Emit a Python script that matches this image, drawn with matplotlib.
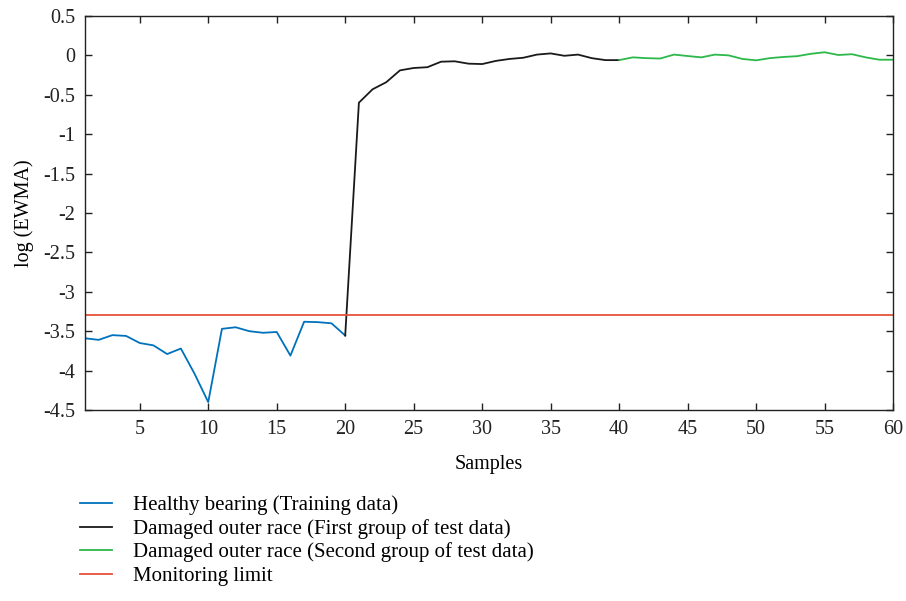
import numpy as np
import matplotlib.pyplot as plt

plt.rcParams['font.family'] = ['Liberation Serif', 'DejaVu Serif']
plt.rcParams['font.size'] = 14.5

### DATA
x_healthy = np.arange(1, 21)
y_healthy = [-3.59, -3.61, -3.55, -3.56, -3.65, -3.68, -3.79, -3.72, -4.04, -4.40,
             -3.47, -3.45, -3.50, -3.52, -3.51, -3.81, -3.38, -3.385, -3.40, -3.555]

x_test1 = np.arange(20, 41)
y_test1 = [-3.555, -0.60, -0.43, -0.34, -0.19, -0.16, -0.15, -0.08, -0.075, -0.105, -0.11,
           -0.07, -0.045, -0.03, 0.01, 0.025, -0.005, 0.01, -0.035, -0.06, -0.06]

x_test2 = np.arange(40, 61)
y_test2 = [-0.06, -0.025, -0.035, -0.04, 0.01, -0.008, -0.025, 0.01, 0.0, -0.045, -0.063,
           -0.035, -0.02, -0.01, 0.02, 0.04, 0.005, 0.015, -0.025, -0.055, -0.055]

limit = -3.3

labels = ['Healthy bearing (Training data)',
          'Damaged outer race (First group of test data)',
          'Damaged outer race (Second group of test data)',
          'Monitoring limit']

### PLOT
fig = plt.figure(figsize=(9.06, 6.01), dpi=100)
ax = fig.add_axes([0.0938, 0.3178, 0.8919, 0.6556])

ax.plot(x_healthy, y_healthy, color='#0072BD', lw=1.3, label=labels[0])
ax.plot(x_test1, y_test1, color='#1a1a1a', lw=1.3, label=labels[1])
ax.plot(x_test2, y_test2, color='#2DB84B', lw=1.3, label=labels[2])
ax.axhline(limit, color='#E5533C', lw=1.3, label=labels[3])

ax.set_xlim(1, 60)
ax.set_ylim(-4.5, 0.5)
ax.set_xticks(np.arange(5, 61, 5))
ax.set_yticks(np.arange(-4.5, 0.51, 0.5))
ax.set_yticklabels(['-4.5', '-4', '-3.5', '-3', '-2.5', '-2', '-1.5', '-1', '-0.5', '0', '0.5'])
ax.tick_params(direction='in', top=True, right=True, length=5, width=1,
               colors='#222222', pad=7)
for s in ax.spines.values():
    s.set_color('#222222')
    s.set_linewidth(1.0)

ax.set_xlabel('Samples', labelpad=12)
ax.set_ylabel('log (EWMA)', labelpad=7)

fig.legend(loc='upper left', bbox_to_anchor=(0.077, 0.193), frameon=False, fontsize=15,
           handlelength=1.55, handletextpad=1.0, labelspacing=0.18, borderpad=0)

plt.savefig('out.png', dpi=100)
